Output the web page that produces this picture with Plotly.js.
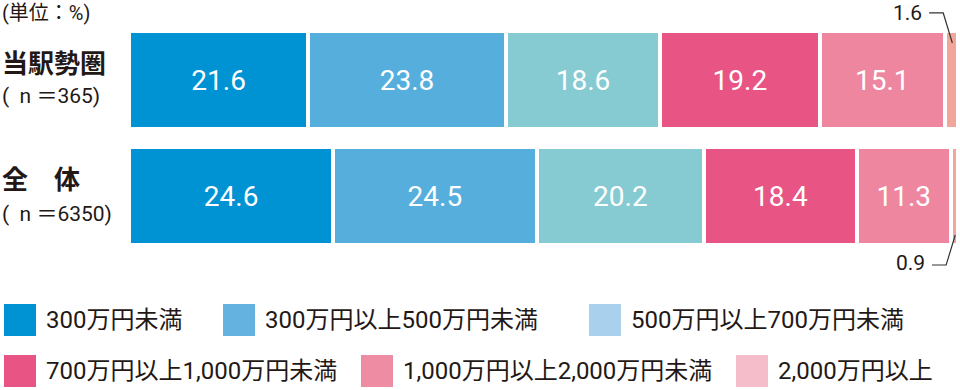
<!DOCTYPE html>
<html>
<head>
<meta charset="utf-8">
<script src="https://cdn.plot.ly/plotly-3.0.1.min.js"></script>
<style>
html,body{margin:0;padding:0;background:#fff;}
#chart{width:960px;height:390px;}
</style>
</head>
<body>
<div id="chart"></div>
<script>
// ---- data ----
const categories = ["当駅勢圏", "全　体"];
const sampleSizes = ["(\u00a0\u00a0n ＝365)", "(\u00a0\u00a0n ＝6350)"];
const seriesNames = ["300万円未満", "300万円以上500万円未満", "500万円以上700万円未満",
                     "700万円以上1,000万円未満", "1,000万円以上2,000万円未満", "2,000万円以上"];
const under300   = [21.6, 24.6];
const from300    = [23.8, 24.5];
const from500    = [18.6, 20.2];
const from700    = [19.2, 18.4];
const from1000   = [15.1, 11.3];
const over2000   = [1.6, 0.9];
const unitLabel = "(単位：%)";

const seriesValues = [under300, from300, from500, from700, from1000, over2000];
const barColors    = ["#0093d3", "#56aedd", "#86cbd2", "#e85584", "#ee86a0", "#f2a69b"];
const legendColors = ["#0093d3", "#63b2e0", "#a9d0ec", "#e85584", "#ee8ca4", "#f5bdca"];

const FONT = "Roboto, 'Noto Sans CJK JP', sans-serif";
const JP = "'Noto Sans CJK JP', Roboto, sans-serif";
const TXT = "#231815";

const traces = seriesValues.map((vals, i) => ({
  type: "bar",
  orientation: "h",
  name: seriesNames[i],
  y: categories,
  x: vals,
  text: vals.map(v => v >= 5 ? v.toFixed(1) : ""),
  textposition: "inside",
  insidetextanchor: "middle",
  textangle: 0,
  constraintext: "none",
  textfont: {color: "#ffffff", size: 28, family: FONT},
  marker: {color: barColors[i], line: {color: "#ffffff", width: 4}},
  hoverinfo: "skip",
  showlegend: false
}));

const annotations = [];
const shapes = [];
const px2x = p => (p - 129) / 830;
const py2y = p => 1 - p / 390;

// unit label
annotations.push({xref: "paper", yref: "paper", x: px2x(0), y: py2y(13), xanchor: "left", yanchor: "middle",
  text: unitLabel, showarrow: false, font: {size: 20, color: TXT, family: FONT}});

// category labels
const catY = [[62, 96], [178, 214]];
categories.forEach((c, i) => {
  annotations.push({xref: "paper", yref: "paper", x: px2x(0), y: py2y(catY[i][0]), xanchor: "left", yanchor: "middle",
    text: "<b>" + c + "</b>", showarrow: false, font: {size: 26, color: TXT, family: JP}});
  annotations.push({xref: "paper", yref: "paper", x: px2x(0), y: py2y(catY[i][1]), xanchor: "left", yanchor: "middle",
    text: sampleSizes[i], showarrow: false, font: {size: 21, color: TXT, family: FONT}});
});

// callouts for small last segment
const last = seriesValues[seriesValues.length - 1];
const totals = categories.map((c, r) => seriesValues.reduce((s, arr) => s + arr[r], 0));
const calloutY = [[-0.578, -0.319], [1.595, 1.336]]; // [label level, bar end]
categories.forEach((c, r) => {
  const xc = totals[r] - last[r] / 2;
  const yl = calloutY[r][0], yb = calloutY[r][1];
  shapes.push({type: "path", xref: "x", yref: "y", layer: "above",
    path: `M ${xc - 2.7} ${yl} L ${xc - 1.0} ${yl} L ${xc + 0.1} ${yb}`,
    line: {color: "#333333", width: 1.2}});
  annotations.push({xref: "x", yref: "y", x: xc - 3.3, y: yl + (r === 1 ? -0.015 : 0), xanchor: "right", yanchor: "middle",
    text: last[r].toFixed(1), showarrow: false, font: {size: 21, color: TXT, family: FONT}});
});

// custom legend
const legendPos = [[4, 320], [223, 320], [589, 320], [4, 371], [361, 371], [736, 371]];
seriesNames.forEach((n, i) => {
  const [px, py] = legendPos[i];
  shapes.push({type: "rect", xref: "paper", yref: "paper",
    x0: px2x(px), x1: px2x(px + 32),
    y0: py2y(py - 16), y1: py2y(py + 16),
    fillcolor: legendColors[i], line: {width: 0}});
  annotations.push({xref: "paper", yref: "paper", x: px2x(px + 40), y: py2y(py),
    xanchor: "left", yanchor: "middle", text: n, showarrow: false,
    font: {size: 24, color: TXT, family: FONT}});
});

const layout = {
  width: 960, height: 390,
  margin: {l: 129, r: 1, t: 0, b: 0, pad: 0},
  paper_bgcolor: "#ffffff", plot_bgcolor: "#ffffff",
  barmode: "stack",
  bargap: 0.147,
  showlegend: false,
  xaxis: {range: [0, 100], visible: false, fixedrange: true},
  yaxis: {type: "category", categoryorder: "array", categoryarray: categories,
          range: [2.6724, -0.6897], visible: false, fixedrange: true},
  annotations: annotations,
  shapes: shapes,
  font: {family: FONT}
};

Plotly.newPlot("chart", traces, layout, {displayModeBar: false, staticPlot: true});
</script>
</body>
</html>
